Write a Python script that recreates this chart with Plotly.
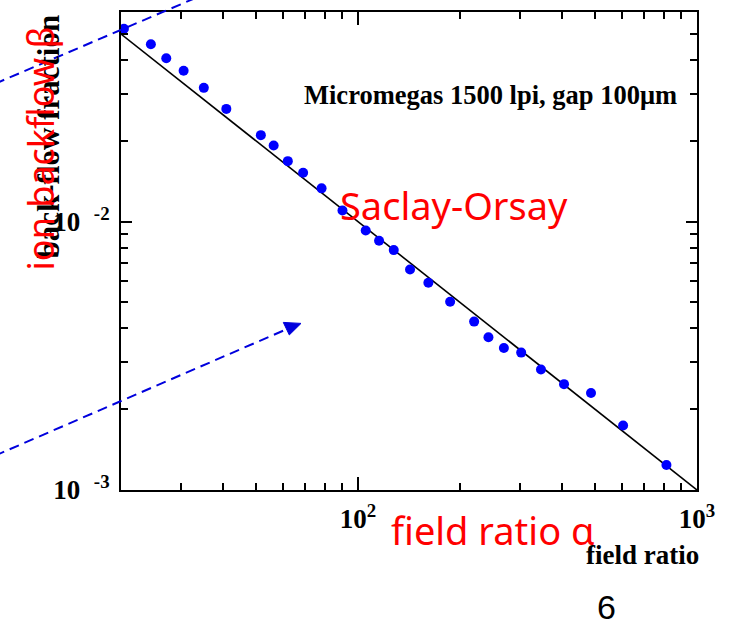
import plotly.graph_objects as go

# ---- data ----
field_ratio = [20.4, 24.5, 27.2, 30.6, 35.1, 40.9, 51.7, 56.4, 62.1, 68.9, 78.1, 90.0,
               105.4, 115.4, 127.5, 142.4, 161.3, 187.0, 220.1, 242.6, 269.4, 303.0,
               346.5, 405.3, 486.8, 605.4, 812.6]
backflow = [0.0523, 0.0458, 0.0406, 0.0365, 0.0315, 0.0263, 0.0210, 0.0192, 0.0168,
            0.0152, 0.0133, 0.0110, 0.00926, 0.00848, 0.00783, 0.00663, 0.00592,
            0.00503, 0.00424, 0.00371, 0.00338, 0.00325, 0.00281, 0.00248, 0.00230,
            0.00174, 0.00124]
fit_x = [20, 1000]
fit_y = [0.05, 0.001]

x_major = [100, 1000]
x_major_text = ["10<sup>2</sup>", "10<sup>3</sup>"]
x_minor = [30, 40, 50, 60, 70, 80, 90, 200, 300, 400, 500, 600, 700, 800, 900]
y_major = [0.001, 0.01]
y_major_text = ["10\u00a0\u00a0<sup>-3</sup>", "10\u00a0\u00a0<sup>-2</sup>"]
y_minor = [0.002, 0.003, 0.004, 0.005, 0.006, 0.007, 0.008, 0.009,
           0.02, 0.03, 0.04, 0.05, 0.06]

# ---- layout geometry ----
W, H = 738, 626
L, R, T, B = 121, 41, 10, 136
PW, PH = W - L - R, H - T - B


def px(x):
    return (x - L) / PW


def py(y):
    return (H - B - y) / PH


fig = go.Figure()
fig.add_trace(go.Scatter(x=fit_x, y=fit_y, mode="lines",
                         line=dict(color="black", width=1.6), showlegend=False,
                         hoverinfo="skip"))
fig.add_trace(go.Scatter(x=field_ratio, y=backflow, mode="markers",
                         marker=dict(color="#0000ff", size=10), showlegend=False,
                         cliponaxis=False))

serif_bold = dict(family="Liberation Serif, Times New Roman, serif", color="black", weight="bold")

axis_common = dict(type="log", showgrid=False, zeroline=False, showline=True,
                   linecolor="black", linewidth=2, mirror="ticks", ticks="inside",
                   tickcolor="black", tickwidth=1.5, tickmode="array",
                   minor=dict(ticks="inside", ticklen=7, tickwidth=1.5, tickcolor="black",
                              tickmode="array", showgrid=False))

fig.update_xaxes(**axis_common)
fig.update_yaxes(**axis_common)
fig.update_xaxes(range=[1.30103, 3], tickvals=x_major, ticktext=x_major_text, ticklen=13,
                 tickfont=dict(size=27, **serif_bold), ticklabelstandoff=4)
fig.update_xaxes(minor_tickvals=x_minor)
fig.update_yaxes(range=[-3, -1.219], tickvals=y_major, ticktext=y_major_text, ticklen=11,
                 tickfont=dict(size=27, **serif_bold), ticklabelstandoff=4)
fig.update_yaxes(minor_tickvals=y_minor)

red_font = dict(family="Noto Sans, sans-serif", color="#ff0000")

annotations = [
    dict(text="Micromegas 1500 lpi, gap 100\u03bcm", x=px(490), y=py(93),
         font=dict(size=26.5, **serif_bold)),
    dict(text="Saclay-Orsay", x=px(454), y=py(204), font=dict(size=38, **red_font)),
    dict(text="field ratio \u03b1", x=px(493), y=py(530), font=dict(size=38, **red_font)),
    dict(text="field ratio", x=px(642), y=py(555), font=dict(size=27, **serif_bold)),
    dict(text="back-flow fraction", x=px(48), y=py(135), textangle=-90,
         font=dict(size=31, **serif_bold)),
    dict(text="ion backflow \u03b2", x=px(40), y=py(147), textangle=-90,
         font=dict(size=36, **red_font)),
    dict(text="6", x=px(606.5), y=py(607), font=dict(family="Liberation Sans, Arial, sans-serif",
                                                    size=34, color="black")),
]
for a in annotations:
    a.update(xref="paper", yref="paper", showarrow=False, xanchor="center", yanchor="middle")

blue = "#0000dd"
shapes = [
    dict(type="line", xref="paper", yref="paper", x0=px(-5), y0=py(82), x1=px(200), y1=py(-6),
         line=dict(color=blue, width=2, dash="10px,6px")),
    dict(type="line", xref="paper", yref="paper", x0=px(-5), y0=py(455.5), x1=px(289), y1=py(327.5),
         line=dict(color=blue, width=2, dash="10px,6px")),
    dict(type="path", xref="paper", yref="paper",
         path=f"M {px(283.3)},{py(321.7)} L {px(301)},{py(322.7)} L {px(289.3)},{py(334.3)} Z",
         fillcolor=blue, line=dict(color=blue, width=1)),
]

fig.update_layout(width=W, height=H, margin=dict(l=L, r=R, t=T, b=B, pad=0),
                  plot_bgcolor="white", paper_bgcolor="white",
                  annotations=annotations, shapes=shapes, showlegend=False)

fig.write_html("out.html", config={"displayModeBar": False},
               post_script="document.body.style.margin='0';")
